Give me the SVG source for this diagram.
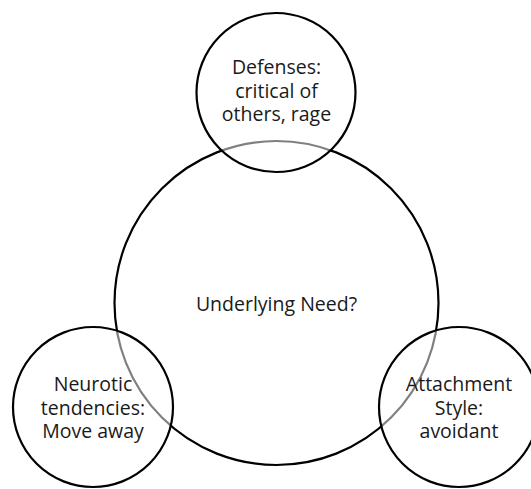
<svg xmlns="http://www.w3.org/2000/svg" width="531" height="489" viewBox="0 0 531 489">
  <style>
    .ring { stroke: #000; stroke-width: 2.2; }
    .core { fill: #fff; }
    .satellite { fill: #fff; fill-opacity: 0.5; }
    .label { font-family: "Open Sans", "Liberation Sans", sans-serif; font-size: 19.5px; fill: #1a1a1a; text-anchor: middle; }
  </style>
  <rect width="531" height="489" fill="#fff"/>

  <!-- central circle -->
  <g id="need">
    <circle class="ring core" cx="276.5" cy="303" r="162"/>
    <text class="label" x="276.5" y="311">Underlying Need?</text>
  </g>

  <!-- satellite circles, translucent so the central ring shows through grey -->
  <g id="defenses">
    <circle class="ring satellite" cx="276" cy="92.5" r="79.5"/>
    <text class="label" x="276.5" y="74">Defenses:</text>
    <text class="label" x="276.5" y="98">critical of</text>
    <text class="label" x="276.5" y="121">others, rage</text>
  </g>

  <g id="neurotic">
    <circle class="ring satellite" cx="93" cy="407" r="80"/>
    <text class="label" x="93" y="391">Neurotic</text>
    <text class="label" x="93" y="415">tendencies:</text>
    <text class="label" x="93" y="438">Move away</text>
  </g>

  <g id="attachment">
    <circle class="ring satellite" cx="459" cy="407" r="80"/>
    <text class="label" x="459" y="391">Attachment</text>
    <text class="label" x="459" y="415">Style:</text>
    <text class="label" x="459" y="438">avoidant</text>
  </g>

  <g id="connectors"/>
</svg>
